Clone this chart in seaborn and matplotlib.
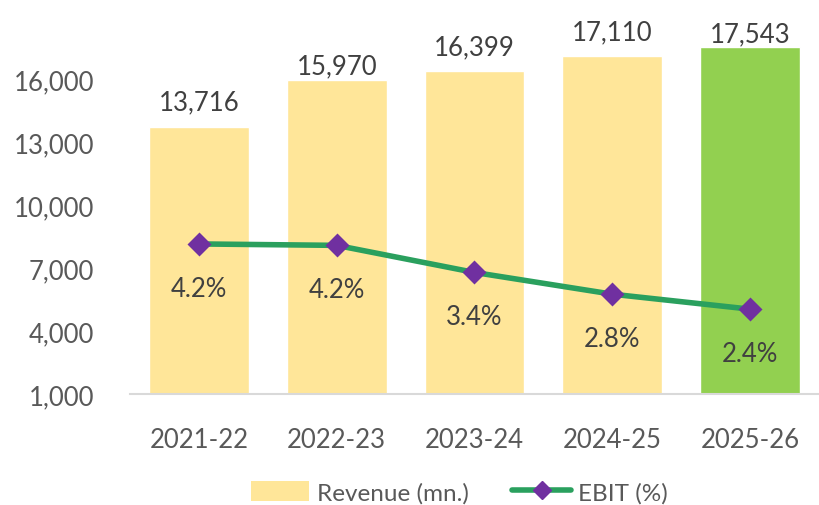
import numpy as np
import pandas as pd
import matplotlib
matplotlib.use("Agg")
import matplotlib.pyplot as plt
import seaborn as sns
from matplotlib.patches import Patch
from matplotlib.lines import Line2D

# ---------------- data ----------------
years = ["2021-22", "2022-23", "2023-24", "2024-25", "2025-26"]
revenue = [13716, 15970, 16399, 17110, 17543]
ebit = [4.21, 4.17, 3.41, 2.80, 2.38]
bar_colors = ["#FFE699", "#FFE699", "#FFE699", "#FFE699", "#92D050"]
y_ticks = [1000, 4000, 7000, 10000, 13000, 16000]

# label offsets above bars (points), as placed in the original
label_pad = [9.5, 1.0, 8.0, 8.0, 0.5]

sns.set_style("white")
plt.rcParams["font.family"] = ["Lato", "DejaVu Sans"]

df = pd.DataFrame({"year": years, "revenue": revenue, "ebit": ebit})

fig = plt.figure(figsize=(8.19, 5.06), dpi=100)
ax = fig.add_axes([0.1587, 0.2194, 0.8413, 0.7466])

sns.barplot(data=df, x="year", y="revenue", hue="year", saturation=1,
            palette=bar_colors, width=0.725, legend=False, ax=ax)
ax.set_ylim(1000, 19000)
ax.set_yticks(y_ticks)
ax.set_yticklabels([f"{v:,}" for v in y_ticks])
ax.set_xlabel("")
ax.set_ylabel("")
ax.tick_params(axis="both", length=0, labelsize=18.5, colors="#595959")
ax.tick_params(axis="y", pad=26)
ax.tick_params(axis="x", pad=24)
for s in ["top", "right", "left"]:
    ax.spines[s].set_visible(False)
ax.spines["bottom"].set_color("#D9D9D9")
ax.spines["bottom"].set_linewidth(1.5)

# value labels on top of bars
bars = [p for p in ax.patches if not np.isnan(p.get_height()) and p.get_height() > 0]
bars.sort(key=lambda p: p.get_x())
for p, pad in zip(bars, label_pad):
    h = p.get_height()
    ax.annotate(f"{h:,.0f}", (p.get_x() + p.get_width() / 2, h),
                xytext=(0, pad), textcoords="offset points",
                ha="center", va="bottom", fontsize=18.5, color="#404040")

# EBIT on hidden secondary axis
ax2 = ax.twinx()
sns.pointplot(data=df, x="year", y="ebit", ax=ax2, color="#2AA05E",
              markers="D", linestyles="-", errorbar=None)
for ln in ax2.lines:
    ln.set_linewidth(4)
    ln.set_markersize(10)
    ln.set_markerfacecolor("#7030A0")
    ln.set_markeredgecolor("#7030A0")
ax2.set_ylim(0, 10.6)
ax2.set_xlim(-0.5, 4.5)
ax2.axis("off")
for i, v in enumerate(ebit):
    ax2.annotate(f"{v:.1f}%", (i, v), xytext=(0, -32), textcoords="offset points",
                 ha="center", va="center", fontsize=18.5, color="#404040")

handles = [Patch(facecolor="#FFE699", edgecolor="none", label="Revenue (mn.)"),
           Line2D([0], [0], color="#2AA05E", lw=4, marker="D", markersize=9,
                  markerfacecolor="#7030A0", markeredgecolor="#7030A0", label="EBIT (%)")]
fig.legend(handles=handles, loc="center", bbox_to_anchor=(0.561, 0.026), ncol=2,
           frameon=False, fontsize=17.5, labelcolor="#595959", handlelength=2.4,
           handleheight=0.9, handletextpad=0.3, columnspacing=1.8)

fig.savefig("out.png", dpi=100)
